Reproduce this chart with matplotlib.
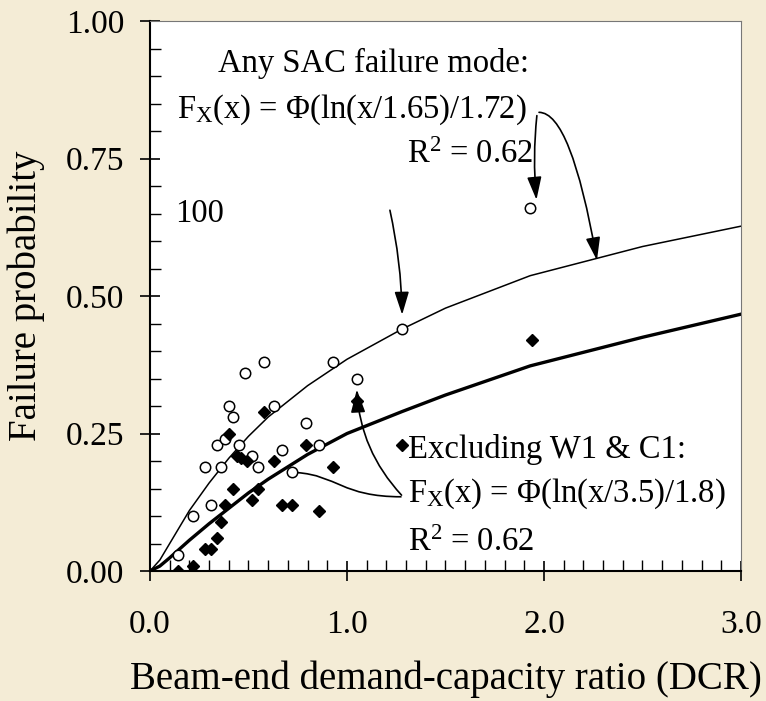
import matplotlib.pyplot as plt
from matplotlib.ticker import MultipleLocator, FixedLocator
from matplotlib.path import Path
from matplotlib.patches import PathPatch

plt.rcParams['font.family'] = ['Liberation Serif', 'DejaVu Serif']
plt.rcParams['mathtext.fontset'] = 'custom'
plt.rcParams['mathtext.rm'] = 'Liberation Serif'
plt.rcParams['mathtext.it'] = 'Liberation Serif:italic'

# any SAC failure mode (open circles)
dcr_all = [0.14, 0.22, 0.28, 0.31, 0.34, 0.36, 0.38, 0.40, 0.42, 0.45, 0.48,
           0.52, 0.55, 0.58, 0.63, 0.67, 0.72, 0.79, 0.86, 0.93, 1.05, 1.28, 1.93]
pf_all = [0.03, 0.10, 0.19, 0.12, 0.23, 0.19, 0.24, 0.30, 0.28, 0.23, 0.36,
          0.21, 0.19, 0.38, 0.30, 0.22, 0.18, 0.27, 0.23, 0.38, 0.35, 0.44, 0.66]

# excluding W1 & C1 (filled diamonds)
dcr_excl = [0.14, 0.22, 0.28, 0.31, 0.34, 0.36, 0.38, 0.40, 0.42, 0.44, 0.46,
            0.49, 0.52, 0.55, 0.58, 0.63, 0.67, 0.72, 0.79, 0.86, 0.93, 1.05,
            1.28, 1.94]
pf_excl = [0.00, 0.01, 0.04, 0.04, 0.06, 0.09, 0.12, 0.25, 0.15, 0.21, 0.205,
           0.20, 0.13, 0.15, 0.29, 0.20, 0.12, 0.12, 0.23, 0.11, 0.19, 0.31,
           0.23, 0.42]

# fitted curves
fit_x = [0.0, 0.05, 0.1, 0.2, 0.3, 0.4, 0.5, 0.6, 0.8, 1.0, 1.28, 1.5, 1.93,
         2.5, 3.0]
fit_all = [0.0, 0.02, 0.05, 0.11, 0.16, 0.205, 0.245, 0.28, 0.337, 0.385,
           0.44, 0.478, 0.537, 0.59, 0.627]
fit_excl = [0.0, 0.009, 0.024, 0.056, 0.086, 0.114, 0.142, 0.167, 0.212,
            0.25, 0.29, 0.32, 0.373, 0.425, 0.467]

bg = '#F4ECD6'
fig = plt.figure(figsize=(7.66, 7.01), dpi=100, facecolor=bg)
ax = fig.add_axes([0.1958, 0.1854, 0.7715, 0.7846])
ax.set_facecolor('white')

ax.plot(fit_x, fit_all, color='black', lw=1.1, zorder=2)
ax.plot(fit_x, fit_excl, color='black', lw=2.4, zorder=2)
ax.plot(dcr_all, pf_all, 'o', ms=7.5, mfc='white', mec='black', mew=1.1,
        zorder=3)
ax.plot(dcr_excl, pf_excl, 'D', ms=6.5, mfc='black', mec='black', zorder=4)

ax.set_xlim(0, 3)
ax.set_ylim(0, 1)
ax.xaxis.set_major_locator(FixedLocator([0, 1, 2, 3]))
ax.set_xticklabels(['0.0', '1.0', '2.0', '3.0'])
ax.xaxis.set_minor_locator(MultipleLocator(0.1))
ax.yaxis.set_major_locator(FixedLocator([0, 0.25, 0.5, 0.75, 1.0]))
ax.set_yticklabels(['0.00', '0.25', '0.50', '0.75', '1.00'])
ax.yaxis.set_minor_locator(MultipleLocator(0.05))
ax.tick_params(which='major', direction='inout', length=14, width=1.2,
               labelsize=24, pad=11.5)
ax.tick_params(which='minor', direction='in', length=8, width=1.0)
ax.tick_params(axis='x', which='major', pad=21)

for s in ['left', 'bottom']:
    ax.spines[s].set_linewidth(1.5)
for s in ['top', 'right']:
    ax.spines[s].set_linewidth(0.8)
    ax.spines[s].set_color('#777777')

ax.set_xlabel('Beam-end demand-capacity ratio (DCR)', fontsize=28)
ax.set_ylabel('Failure probability', fontsize=28)
ax.xaxis.set_label_coords(0.5, -0.163)
ax.yaxis.set_label_coords(-0.178, 0.5)

fs = 23.5
ax.text(0.345, 0.908, 'Any SAC failure mode:', fontsize=fs, va='baseline')
ax.text(0.137, 0.825, r'F$_\mathrm{X}$(x) = Φ(ln(x/1.65)/1.72)', fontsize=fs,
        va='baseline')
ax.text(1.305, 0.741, r'R$^2$ = 0.62', fontsize=fs, va='baseline')
ax.text(0.127, 0.635, '100', fontsize=fs, va='baseline')
ax.text(1.31, 0.205, 'Excluding W1 & C1:', fontsize=fs, va='baseline')
ax.text(1.31, 0.126, r'F$_\mathrm{X}$(x) = Φ(ln(x/3.5)/1.8)', fontsize=fs,
        va='baseline')
ax.text(1.31, 0.037, r'R$^2$ = 0.62', fontsize=fs, va='baseline')

arrow = dict(arrowstyle='-|>,head_length=0.7,head_width=0.22', color='black',
             lw=1.2, shrinkA=0, shrinkB=0, mutation_scale=20)
ax.annotate('', xy=(1.962, 0.675), xytext=(1.964, 0.828),
            arrowprops=dict(arrow, connectionstyle='arc3,rad=0.05'))
ax.annotate('', xy=(2.269, 0.565), xytext=(1.975, 0.834),
            arrowprops=dict(arrow, connectionstyle='angle3,angleA=0,angleB=100'))
ax.annotate('', xy=(1.28, 0.466), xytext=(1.218, 0.656),
            arrowprops=dict(arrow, connectionstyle='arc3,rad=-0.05'))
ax.annotate('', xy=(1.05, 0.33), xytext=(1.277, 0.138),
            arrowprops=dict(arrow, connectionstyle='arc3,rad=-0.18'))

brace = Path([(1.277, 0.135), (0.975, 0.135), (0.949, 0.174), (0.745, 0.179)],
             [Path.MOVETO, Path.CURVE4, Path.CURVE4, Path.CURVE4])
ax.add_patch(PathPatch(brace, fc='none', ec='black', lw=1.2, zorder=2))

fig.savefig('out.png', dpi=100, facecolor=bg)
